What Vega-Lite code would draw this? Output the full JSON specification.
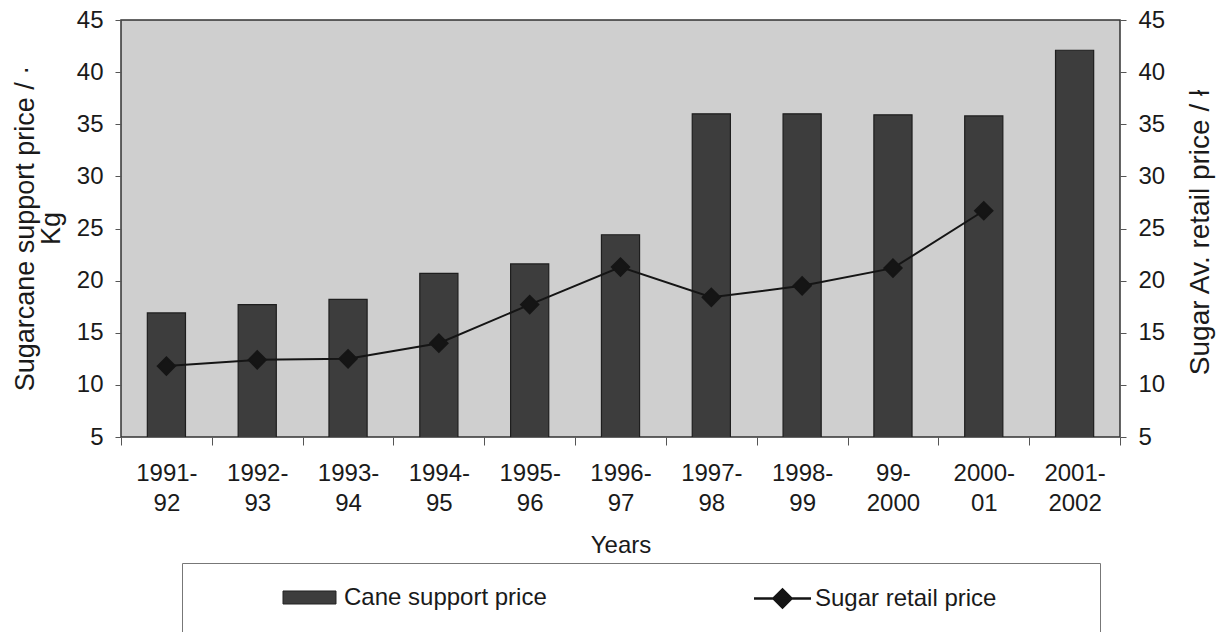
{
  "$schema": "https://vega.github.io/schema/vega-lite/v6.json",
  "width": 999,
  "height": 417,
  "autosize": {"type": "none"},
  "padding": {"left": 121, "top": 20, "right": 98, "bottom": 195},
  "background": "white",
  "config": {
    "font": "Liberation Sans",
    "view": {"fill": "#cfcfcf", "stroke": "#333333", "strokeWidth": 1.5},
    "axis": {
      "labelFont": "Liberation Sans",
      "titleFont": "Liberation Sans",
      "labelColor": "#1a1a1a",
      "titleColor": "#1a1a1a",
      "labelFontSize": 24,
      "titleFontSize": 24,
      "titleFontWeight": "normal",
      "grid": false,
      "domain": false,
      "tickColor": "#555555"
    },
    "legend": {
      "labelFont": "Liberation Sans",
      "labelFontSize": 24,
      "labelColor": "#1a1a1a",
      "labelLimit": 400
    }
  },
  "data": {
    "values": [
      {"year": "1991-92", "cane": 16.9, "sugar": 11.8},
      {"year": "1992-93", "cane": 17.7, "sugar": 12.4},
      {"year": "1993-94", "cane": 18.2, "sugar": 12.5},
      {"year": "1994-95", "cane": 20.7, "sugar": 14.0},
      {"year": "1995-96", "cane": 21.6, "sugar": 17.7},
      {"year": "1996-97", "cane": 24.4, "sugar": 21.3},
      {"year": "1997-98", "cane": 36.0, "sugar": 18.4},
      {"year": "1998-99", "cane": 36.0, "sugar": 19.5},
      {"year": "99-2000", "cane": 35.9, "sugar": 21.2},
      {"year": "2000-01", "cane": 35.8, "sugar": 26.7},
      {"year": "2001-2002", "cane": 42.1, "sugar": null}
    ]
  },
  "layer": [
    {
      "mark": {"type": "bar", "width": {"band": 0.42}, "stroke": "#1e1e1e", "strokeWidth": 1.2, "clip": true},
      "encoding": {
        "x": {
          "field": "year",
          "type": "nominal",
          "sort": null,
          "scale": {"paddingInner": 0, "paddingOuter": 0},
          "axis": {
            "title": "Years",
            "tickBand": "extent",
            "tickSize": 8,
            "labelPadding": 16,
            "labelAngle": 0,
            "labelLineHeight": 30,
            "labelExpr": "datum.label ? [split(datum.label, '-')[0] + '-', split(datum.label, '-')[1]] : ''",
            "titlePadding": 18
          }
        },
        "y": {
          "field": "cane",
          "type": "quantitative",
          "scale": {"domain": [5, 45], "nice": false, "zero": false},
          "axis": {
            "values": [5, 10, 15, 20, 25, 30, 35, 40, 45],
            "tickSize": 6,
            "labelPadding": 12,
            "title": ["Sugarcane support price / ·", "Kg"],
            "titleFontSize": 27,
            "titleLineHeight": 26,
            "titleAngle": 270,
            "titleBaseline": "bottom",
            "titleAlign": "center",
            "titleX": -82,
            "titleY": 208
          }
        },
        "fill": {
          "datum": "Cane support price",
          "type": "nominal",
          "scale": {"range": ["#3d3d3d"]},
          "legend": {
            "orient": "none",
            "legendX": 61,
            "legendY": 543,
            "title": " ",
            "titleOrient": "right",
            "titleBaseline": "top",
            "titlePadding": 549,
            "titleFontSize": 58,
            "padding": 4,
            "strokeColor": "#777777",
            "fillColor": "white",
            "symbolType": "M-0.883,-0.217H0.883V0.217H-0.883Z",
            "symbolSize": 3600,
            "symbolStrokeColor": "#222222",
            "symbolStrokeWidth": 1,
            "symbolOffset": 93,
            "labelOffset": 4
          }
        }
      }
    },
    {
      "mark": {"type": "line", "strokeWidth": 2, "point": {"shape": "diamond", "filled": true, "size": 300, "fill": "#151515"}},
      "encoding": {
        "x": {"field": "year", "type": "nominal", "sort": null},
        "y": {
          "field": "sugar",
          "type": "quantitative",
          "scale": {"domain": [5, 45], "nice": false, "zero": false},
          "axis": {
            "orient": "right",
            "values": [5, 10, 15, 20, 25, 30, 35, 40, 45],
            "tickSize": 6,
            "labelPadding": 12,
            "title": "Sugar Av. retail price / ł",
            "titleFontSize": 28,
            "titleAngle": 270,
            "titleBaseline": "top",
            "titleAlign": "center",
            "titleX": 66,
            "titleY": 212
          }
        },
        "stroke": {
          "datum": "Sugar retail price",
          "type": "nominal",
          "scale": {"range": ["#151515"]},
          "legend": {
            "orient": "none",
            "legendX": 630,
            "legendY": 547,
            "title": null,
            "padding": 0,
            "symbolType": "M-0.95,0H0.95M-0.3,0L0,-0.3L0.3,0L0,0.3Z",
            "symbolSize": 3600,
            "symbolFillColor": "#151515",
            "symbolStrokeWidth": 2.5,
            "labelOffset": 1
          }
        }
      }
    }
  ],
  "resolve": {"scale": {"y": "independent"}}
}
